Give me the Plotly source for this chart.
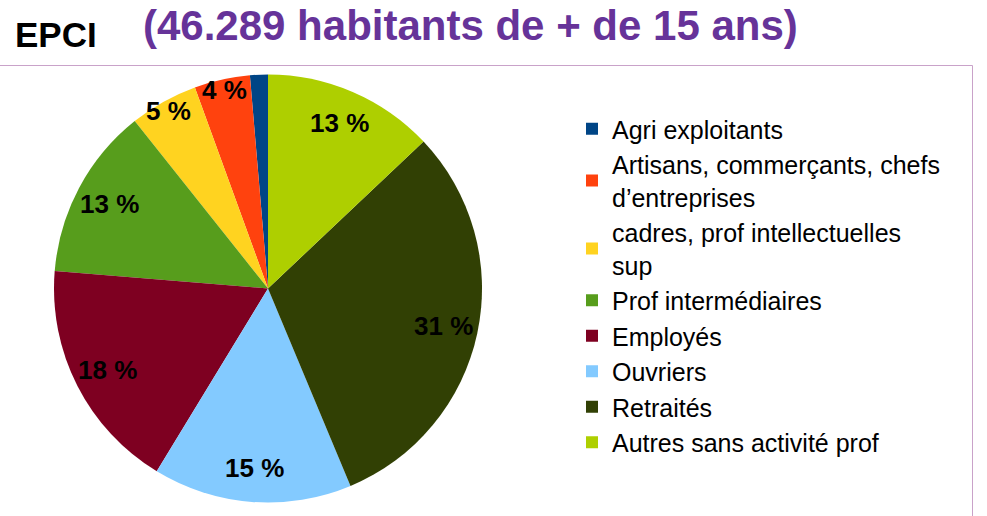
import math
import plotly.graph_objects as go

# Population de 15 ans et plus par catégorie socioprofessionnelle (%)
categories = [
    "Agri exploitants",
    "Artisans, commerçants, chefs<br>d’entreprises",
    "cadres, prof intellectuelles<br>sup",
    "Prof intermédiaires",
    "Employés",
    "Ouvriers",
    "Retraités",
    "Autres sans activité prof",
]
parts = [1.35, 4.2, 5.15, 13.0, 17.6, 15.0, 30.75, 12.95]
show_label = [False, True, True, True, True, True, True, True]
colors = ["#004586", "#ff420e", "#ffd320", "#579d1c",
          "#7e0021", "#83caff", "#314004", "#aecf00"]

W, H = 987, 516
CX, CY, R = 268, 288.5, 214  # pie centre and radius in pixels

total = sum(parts)
# plotly ends the first counterclockwise slice at `rotation`; shift it so
# the first slice starts at 12 o'clock and runs to the left
start_rot = -parts[0] / total * 360

fig = go.Figure(go.Pie(
    labels=categories,
    values=parts,
    sort=False,
    direction="counterclockwise",
    rotation=start_rot,
    marker=dict(colors=colors, line=dict(width=0)),
    textinfo="none",
    hoverinfo="label+percent",
    domain=dict(x=[(CX - R) / W, (CX + R) / W],
                y=[1 - (CY + R) / H, 1 - (CY - R) / H]),
))

# Percentage labels placed along each slice's bisector
annotations = []
cum = 0.0
for v, show in zip(parts, show_label):
    mid = (cum + v / 2) / total * 2 * math.pi
    cum += v
    if not show:
        continue
    rr = R * (0.84 if v / total >= 0.08 else 0.95)
    px = CX - rr * math.sin(mid)
    py = CY - rr * math.cos(mid)
    annotations.append(dict(
        x=px / W, y=1 - py / H, xref="paper", yref="paper",
        text=f"<b>{round(v / total * 100):.0f} %</b>", showarrow=False,
        xanchor="center", yanchor="middle",
        font=dict(family="Liberation Sans", size=26, color="#000000"),
    ))

annotations.append(dict(
    x=13 / W, y=1 - 34 / H, xref="paper", yref="paper",
    text="<b>EPCI</b>", showarrow=False, xanchor="left", yanchor="middle",
    font=dict(family="Liberation Sans", size=35, color="#000000"),
))
annotations.append(dict(
    x=141 / W, y=1 - 26 / H, xref="paper", yref="paper",
    text="<b>(46.289 habitants de + de 15 ans)</b>", showarrow=False,
    xanchor="left", yanchor="middle",
    font=dict(family="Liberation Sans", size=42, color="#663399"),
))

fig.update_layout(
    width=W, height=H,
    margin=dict(l=0, r=0, t=0, b=0),
    paper_bgcolor="#ffffff",
    plot_bgcolor="#ffffff",
    showlegend=True,
    legend=dict(
        x=572 / W, y=1 - 106 / H, xanchor="left", yanchor="top",
        font=dict(family="Liberation Sans", size=25, color="#000000"),
        bgcolor="rgba(0,0,0,0)", traceorder="normal",
    ),
    annotations=annotations,
    shapes=[dict(
        type="rect", xref="paper", yref="paper",
        x0=-2 / W, x1=972.5 / W, y0=-0.05, y1=1 - 65.5 / H,
        line=dict(color="#c9a2c9", width=1), fillcolor="rgba(0,0,0,0)",
        layer="below",
    )],
)

fig.write_html("out.html")
